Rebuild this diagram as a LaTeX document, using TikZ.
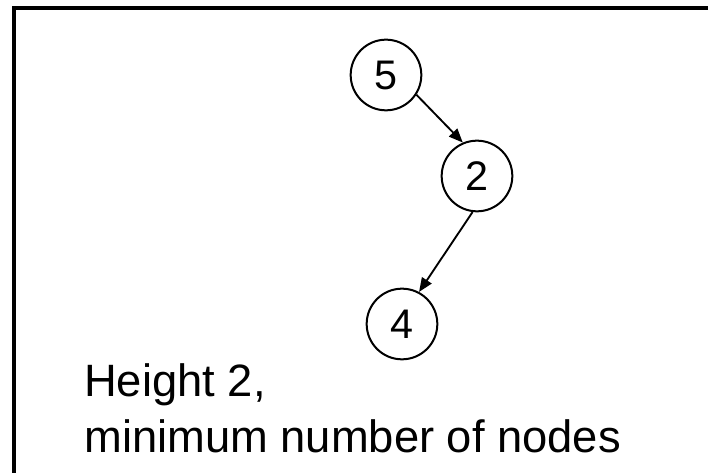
\documentclass[tikz,border=0pt]{standalone}
\usepackage{fontspec}
\setmainfont{Liberation Sans}
\usetikzlibrary{arrows.meta}

\begin{document}
\begin{tikzpicture}[
x=0.75pt, y=-0.75pt,
treenode/.style={draw, circle, line width=1.5pt, minimum size=53pt, inner sep=0pt, font=\fontsize{31}{33}\selectfont},
arrow/.style={-{Triangle[length=10.5pt, width=8.5pt]}, line width=1.4pt},
caption/.style={align=left, anchor=north west, inner sep=0pt, font=\fontsize{34}{42}\selectfont}
]
\useasboundingbox (0,0) rectangle (708,473);
\draw[line width=2.3pt] (14,8) rectangle (740,500);
\node[treenode] (n5) at (386,75) {5};
\node[treenode] (n2) at (477,176) {2};
\node[treenode] (n4) at (402,324) {4};
\draw[arrow] (n5.-33) -- (n2.113);
\draw[arrow] (n2.-97) -- (n4.62);
\node[caption] (label) at (84,363) {Height 2,\\minimum number of nodes};
\end{tikzpicture}
\end{document}
